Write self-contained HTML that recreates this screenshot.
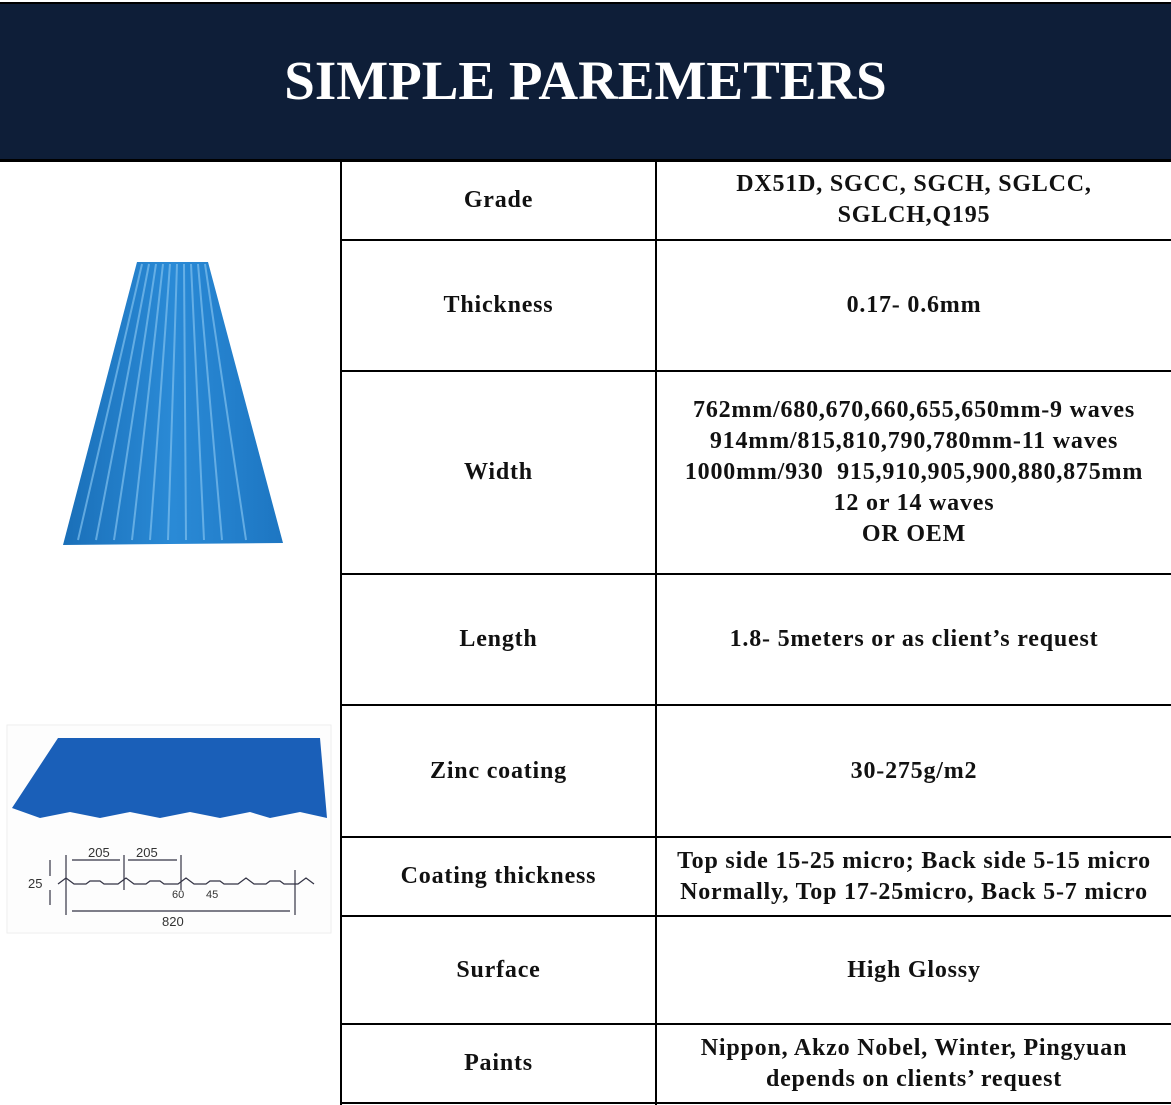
<!DOCTYPE html>
<html><head><meta charset="utf-8"><style>
body{margin:0;width:1171px;height:1105px;background:#fff;position:relative;overflow:hidden;font-family:"Liberation Serif",serif;font-weight:bold;color:#111}
.hdr{position:absolute;left:0;top:2px;width:1171px;height:158px;background:#0e1e38;border-top:2px solid #000;box-sizing:border-box}
.title{position:absolute;left:0;width:1171px;top:50px;text-align:center;color:#fff;font-size:55px;line-height:62px}
.h{position:absolute;left:341px;width:830px;height:2px;background:#000}
.v{position:absolute;top:161px;width:2px;height:944px;background:#000}
.c{position:absolute;display:flex;align-items:center;justify-content:center;text-align:center;font-size:24px;line-height:31px;letter-spacing:0.8px;white-space:nowrap}
</style></head><body>
<div class="hdr"></div>
<div class="title">SIMPLE PAREMETERS</div>
<div style="position:absolute;left:0;top:159px;width:1171px;height:3px;background:#000"></div>
<div class="v" style="left:340px"></div>
<div class="v" style="left:655px"></div>
<div class="h" style="top:239px"></div>
<div class="h" style="top:370px"></div>
<div class="h" style="top:573px"></div>
<div class="h" style="top:704px"></div>
<div class="h" style="top:836px"></div>
<div class="h" style="top:915px"></div>
<div class="h" style="top:1023px"></div>
<div class="h" style="top:1102px"></div>

<div class="c" style="left:342px;width:313px;top:161px;height:78px">Grade</div>
<div class="c" style="left:657px;width:514px;top:161px;height:78px">DX51D, SGCC, SGCH, SGLCC,<br>SGLCH,Q195</div>
<div class="c" style="left:342px;width:313px;top:241px;height:129px">Thickness</div>
<div class="c" style="left:657px;width:514px;top:241px;height:129px">0.17- 0.6mm</div>
<div class="c" style="left:342px;width:313px;top:372px;height:201px">Width</div>
<div class="c" style="left:657px;width:514px;top:372px;height:201px">762mm/680,670,660,655,650mm-9 waves<br>914mm/815,810,790,780mm-11 waves<br>1000mm/930&nbsp; 915,910,905,900,880,875mm<br>12 or 14 waves<br>OR OEM</div>
<div class="c" style="left:342px;width:313px;top:575px;height:129px">Length</div>
<div class="c" style="left:657px;width:514px;top:575px;height:129px">1.8- 5meters or as client’s request</div>
<div class="c" style="left:342px;width:313px;top:706px;height:130px">Zinc coating</div>
<div class="c" style="left:657px;width:514px;top:706px;height:130px">30-275g/m2</div>
<div class="c" style="left:342px;width:313px;top:838px;height:77px">Coating thickness</div>
<div class="c" style="left:657px;width:514px;top:838px;height:77px">Top side 15-25 micro; Back side 5-15 micro<br>Normally, Top 17-25micro, Back 5-7 micro</div>
<div class="c" style="left:342px;width:313px;top:917px;height:106px">Surface</div>
<div class="c" style="left:657px;width:514px;top:917px;height:106px">High Glossy</div>
<div class="c" style="left:342px;width:313px;top:1025px;height:77px">Paints</div>
<div class="c" style="left:657px;width:514px;top:1025px;height:77px">Nippon, Akzo Nobel, Winter, Pingyuan<br>depends on clients’ request</div>

<svg style="position:absolute;left:0;top:0" width="340" height="1105">
<defs><linearGradient id="g" x1="0" x2="1"><stop offset="0" stop-color="#1a6fb8"/><stop offset=".5" stop-color="#2a8ad6"/><stop offset="1" stop-color="#1d76c2"/></linearGradient></defs>
<polygon points="137,262 208,262 283,543 63,545" fill="url(#g)"/>
<g stroke="#7fc0ee" stroke-width="2" opacity=".7">
<line x1="142" y1="264" x2="78" y2="540"/><line x1="149" y1="264" x2="96" y2="540"/><line x1="156" y1="264" x2="114" y2="540"/><line x1="163" y1="264" x2="132" y2="540"/><line x1="170" y1="264" x2="150" y2="540"/><line x1="177" y1="264" x2="168" y2="540"/><line x1="184" y1="264" x2="186" y2="540"/><line x1="191" y1="264" x2="204" y2="540"/><line x1="198" y1="264" x2="222" y2="540"/><line x1="205" y1="264" x2="246" y2="540"/></g>
<rect x="7" y="725" width="324" height="208" fill="#fdfdfd" stroke="#eee"/>
<polygon points="12,808 58,738 320,738 327,818 300,812 270,818 250,812 220,818 190,812 160,818 130,812 100,818 70,812 40,818" fill="#1a5fb8"/>
<g fill="none" stroke="#334" stroke-width="1.2">
<path d="M58,884 l8,-6 l8,6 h12 l4,-3 h10 l4,3 h14 l8,-6 l8,6 h12 l4,-3 h10 l4,3 h14 l8,-6 l8,6 h12 l4,-3 h10 l4,3 h14 l8,-6 l8,6 h12 l4,-3 h10 l4,3 h14 l8,-6 l8,6"/>
<line x1="66" y1="855" x2="66" y2="915"/><line x1="124" y1="855" x2="124" y2="890"/><line x1="181" y1="855" x2="181" y2="890"/><line x1="295" y1="870" x2="295" y2="915"/>
<line x1="72" y1="860" x2="120" y2="860"/><line x1="128" y1="860" x2="177" y2="860"/><line x1="72" y1="911" x2="290" y2="911"/>
<line x1="50" y1="860" x2="50" y2="876"/><line x1="50" y1="890" x2="50" y2="905"/></g>
<g font-family="Liberation Sans,sans-serif" font-weight="normal" font-size="13" fill="#333">
<text x="88" y="857">205</text><text x="136" y="857">205</text><text x="28" y="888">25</text><text x="172" y="898" font-size="11">60</text><text x="206" y="898" font-size="11">45</text><text x="162" y="926">820</text></g>
</svg>
</body></html>
